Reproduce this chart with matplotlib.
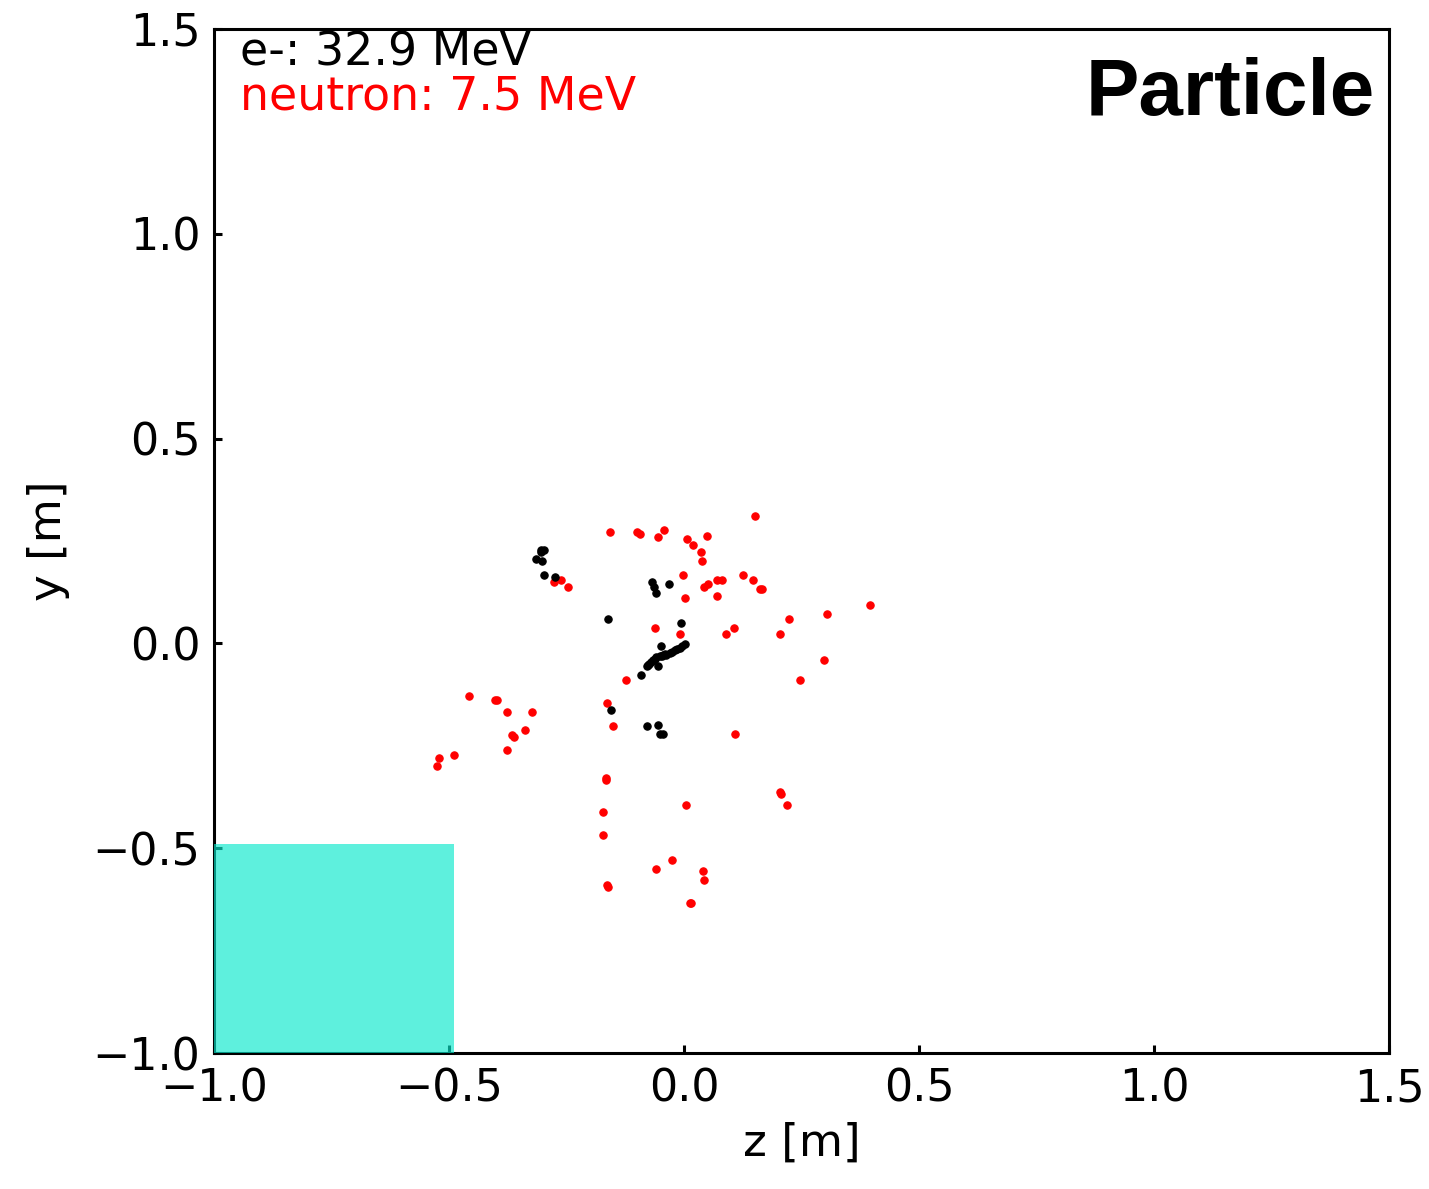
import matplotlib
matplotlib.use('Agg')
from matplotlib import pyplot as plt
from matplotlib.patches import Rectangle

# e- hit positions (z, y) in metres
e_z = [-0.304, -0.299, -0.304, -0.316, -0.302, -0.299, -0.274,
       -0.069, -0.065, -0.059, -0.033, -0.163, -0.006,
       -0.050, -0.055, -0.093, -0.080, -0.055, -0.052, -0.046, -0.155,
       0.001, -0.005, -0.010, -0.015, -0.020, -0.026, -0.031, -0.038,
       -0.046, -0.052, -0.059, -0.063, -0.067, -0.070, -0.074, -0.077, -0.080,
       -0.040, -0.048]
e_y = [0.227, 0.227, 0.222, 0.207, 0.200, 0.166, 0.163,
       0.151, 0.137, 0.122, 0.144, 0.059, 0.051,
       -0.005, -0.056, -0.076, -0.202, -0.200, -0.220, -0.220, -0.163,
       -0.002, -0.006, -0.010, -0.013, -0.017, -0.020, -0.024, -0.027,
       -0.029, -0.031, -0.034, -0.038, -0.041, -0.045, -0.049, -0.052, -0.056,
       -0.025, -0.030]

# neutron hit positions (z, y) in metres
n_z = [-0.157, -0.101, -0.095, -0.055, -0.044, 0.150, 0.005, 0.018, 0.048,
       0.035, 0.037, -0.003, 0.050, 0.043, 0.069, 0.080, 0.126, 0.146,
       0.161, 0.165, 0.001, 0.069, 0.395, 0.303, 0.224, -0.063, -0.008,
       0.107, 0.088, 0.203, 0.297, 0.246, -0.263, -0.278, -0.248, -0.123,
       -0.459, -0.399, -0.402, -0.378, -0.325, -0.338, -0.363, -0.366,
       -0.378, -0.165, -0.152, -0.521, -0.491, -0.527, -0.167, -0.166,
       -0.172, -0.172, 0.003, 0.109, 0.203, 0.205, 0.218, -0.027, -0.059,
       0.039, 0.043, -0.163, -0.165, 0.014, 0.012]
n_y = [0.271, 0.271, 0.266, 0.259, 0.276, 0.310, 0.254, 0.241, 0.261,
       0.224, 0.200, 0.166, 0.146, 0.137, 0.156, 0.154, 0.166, 0.156,
       0.134, 0.134, 0.112, 0.115, 0.095, 0.071, 0.059, 0.037, 0.022,
       0.037, 0.022, 0.024, -0.041, -0.088, 0.156, 0.149, 0.137, -0.090,
       -0.127, -0.139, -0.137, -0.168, -0.166, -0.212, -0.227, -0.224,
       -0.259, -0.146, -0.202, -0.280, -0.271, -0.300, -0.332, -0.327,
       -0.410, -0.468, -0.395, -0.220, -0.363, -0.368, -0.393, -0.527, -0.551,
       -0.556, -0.576, -0.593, -0.590, -0.634, -0.632]

e_energy = 32.9
n_energy = 7.5

fig, ax = plt.subplots(figsize=(7.145, 5.945), dpi=200)
fig.subplots_adjust(left=0.150, right=0.972, top=0.976, bottom=0.114)

ax.scatter(n_z, n_y, s=7, c='red', edgecolors='red', linewidths=0.4, zorder=2)
ax.scatter(e_z, e_y, s=7, c='black', edgecolors='black', linewidths=0.4, zorder=2)

# detector block in the corner
ax.add_patch(Rectangle((-1.0, -1.0), 0.51, 0.51, facecolor='#08e8cc',
                       alpha=0.65, edgecolor='none', zorder=3))

ax.set_xlim(-1.0, 1.5)
ax.set_ylim(-1.0, 1.5)
ax.set_xticks([-1.0, -0.5, 0.0, 0.5, 1.0, 1.5])
ax.set_yticks([-1.0, -0.5, 0.0, 0.5, 1.0, 1.5])
ax.set_xlabel('z [m]', fontsize=16.3, labelpad=4)
ax.set_ylabel('y [m]', fontsize=16.3, labelpad=8)
ax.tick_params(axis='both', direction='in', length=3, width=1.1, labelsize=16, pad=5)
for sp in ax.spines.values():
    sp.set_linewidth(1.1)

ax.text(0.022, 0.998, f'e-: {e_energy} MeV', transform=ax.transAxes,
        fontsize=16.5, color='black', va='top', ha='left')
ax.text(0.022, 0.955, f'neutron: {n_energy} MeV', transform=ax.transAxes,
        fontsize=16.5, color='red', va='top', ha='left')
ax.text(0.988, 0.972, 'Particle', transform=ax.transAxes, fontsize=28.8,
        fontweight='bold', family='Liberation Sans', va='top', ha='right')

plt.savefig('out.png', dpi=200)
